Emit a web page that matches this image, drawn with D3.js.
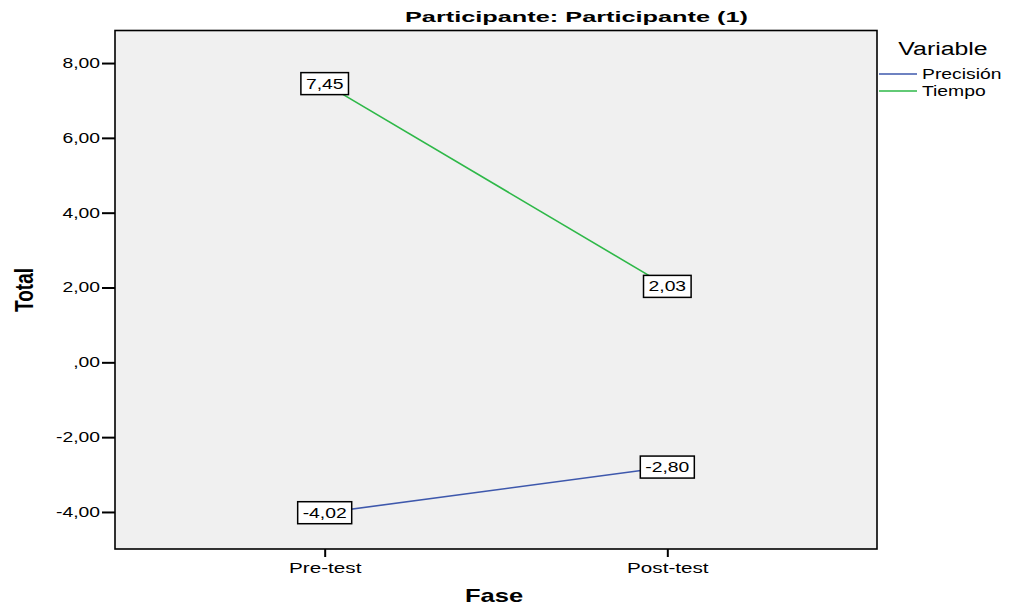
<!DOCTYPE html>
<html>
<head>
<meta charset="utf-8">
<script src="https://cdn.jsdelivr.net/npm/d3@7"></script>
<style>
  html, body { margin: 0; padding: 0; background: #fff; }
  svg { display: block; font-family: "Liberation Sans", Arial, sans-serif; }
</style>
</head>
<body>
<svg id="chart" width="1010" height="608"></svg>
<script>
// ---- data ----
const phases = ["Pre-test", "Post-test"];
const seriesNames = ["Precisión", "Tiempo"];
const precisionValues = [-4.02, -2.80];
const tiempoValues = [7.45, 2.03];
const yTickValues = [-4, -2, 0, 2, 4, 6, 8];
const yTickLabels = ["-4,00", "-2,00", ",00", "2,00", "4,00", "6,00", "8,00"];
const titleText = "Participante: Participante (1)";
const xTitle = "Fase";
const yTitle = "Total";
const legendTitle = "Variable";

// ---- layout / style ----
const SX = 1.38; // horizontal stretch of text in reference
const colors = { "Precisión": "#3E58AC", "Tiempo": "#2EB848" };
const plot = { left: 115, right: 877, top: 30.5, bottom: 549 };

const svg = d3.select("#chart");

const x = d3.scalePoint().domain(phases).range([plot.left, plot.right]).padding(0.612);
const y = d3.scaleLinear().domain([-4.99, 8.87]).range([plot.bottom, plot.top]);

function fmt(v) {
  const s = Math.abs(v).toFixed(2).replace(".", ",");
  return (v < 0 ? "-" : "") + s;
}

// plot background
svg.append("rect")
  .attr("x", plot.left).attr("y", plot.top)
  .attr("width", plot.right - plot.left).attr("height", plot.bottom - plot.top)
  .attr("fill", "#F0F0F0");

// y axis
const yAxis = svg.append("g")
  .attr("transform", `translate(${plot.left},0)`)
  .call(d3.axisLeft(y).tickValues(yTickValues)
    .tickFormat((d, i) => yTickLabels[i]).tickSize(13).tickSizeOuter(0));
yAxis.select(".domain").remove();
yAxis.selectAll(".tick line").attr("stroke", "#000").attr("stroke-width", 2);
yAxis.selectAll(".tick text")
  .attr("font-size", 14).attr("fill", "#000")
  .attr("x", -15 / SX).attr("dy", "0.32em")
  .attr("transform", `scale(${SX},1)`);

// x axis
const xAxis = svg.append("g")
  .attr("transform", `translate(0,${plot.bottom})`)
  .call(d3.axisBottom(x).tickSize(8).tickSizeOuter(0));
xAxis.select(".domain").remove();
xAxis.selectAll(".tick line").attr("stroke", "#000").attr("stroke-width", 2);
xAxis.selectAll(".tick text")
  .attr("font-size", 15).attr("fill", "#000")
  .attr("y", 24).attr("dy", 0)
  .attr("transform", `scale(${SX},1)`);

// frame
svg.append("rect")
  .attr("x", plot.left).attr("y", plot.top)
  .attr("width", plot.right - plot.left).attr("height", plot.bottom - plot.top)
  .attr("fill", "none").attr("stroke", "#000").attr("stroke-width", 1.6);

// series
const series = [
  { name: seriesNames[0], values: precisionValues },
  { name: seriesNames[1], values: tiempoValues }
];
const line = d3.line().x((d, i) => x(phases[i])).y(d => y(d));

svg.append("g").selectAll("path").data(series).join("path")
  .attr("d", d => line(d.values))
  .attr("fill", "none")
  .attr("stroke", d => colors[d.name])
  .attr("stroke-width", 1.6);

// value labels
const labels = svg.append("g");
series.forEach(s => {
  s.values.forEach((v, i) => {
    const g = labels.append("g").attr("transform", `translate(${x(phases[i])},${y(v)})`);
    const rect = g.append("rect");
    const t = g.append("text")
      .attr("font-size", 14).attr("fill", "#000")
      .attr("text-anchor", "middle").attr("dy", "0.36em")
      .attr("transform", `scale(${SX},1)`)
      .text(fmt(v));
    const w = t.node().getBBox().width * SX + 10;
    rect.attr("x", -w / 2).attr("y", -11).attr("width", w).attr("height", 22)
      .attr("fill", "#fff").attr("stroke", "#000").attr("stroke-width", 1.5);
  });
});

// title
svg.append("text")
  .attr("x", 576.5).attr("y", 22)
  .attr("text-anchor", "middle")
  .attr("font-size", 14).attr("font-weight", "bold")
  .attr("textLength", 343).attr("lengthAdjust", "spacingAndGlyphs")
  .text(titleText);

// axis titles
svg.append("text")
  .attr("transform", `translate(494,602) scale(${SX},1)`)
  .attr("text-anchor", "middle")
  .attr("font-size", 18.5).attr("font-weight", "bold")
  .text(xTitle);

svg.append("text")
  .attr("transform", `translate(33,290) scale(${SX},1) rotate(-90)`)
  .attr("text-anchor", "middle")
  .attr("font-size", 19).attr("font-weight", "bold")
  .text(yTitle);

// legend
const legend = svg.append("g");
legend.append("text")
  .attr("transform", `translate(943,55) scale(${SX},1)`)
  .attr("text-anchor", "middle")
  .attr("font-size", 18).text(legendTitle);
seriesNames.forEach((n, i) => {
  const ly = 74 + i * 17;
  legend.append("line")
    .attr("x1", 879).attr("x2", 917).attr("y1", ly).attr("y2", ly)
    .attr("stroke", colors[n]).attr("stroke-width", 1.6);
  legend.append("text")
    .attr("transform", `translate(922,${ly + 5}) scale(${SX},1)`)
    .attr("font-size", 14).text(n);
});
</script>
</body>
</html>
